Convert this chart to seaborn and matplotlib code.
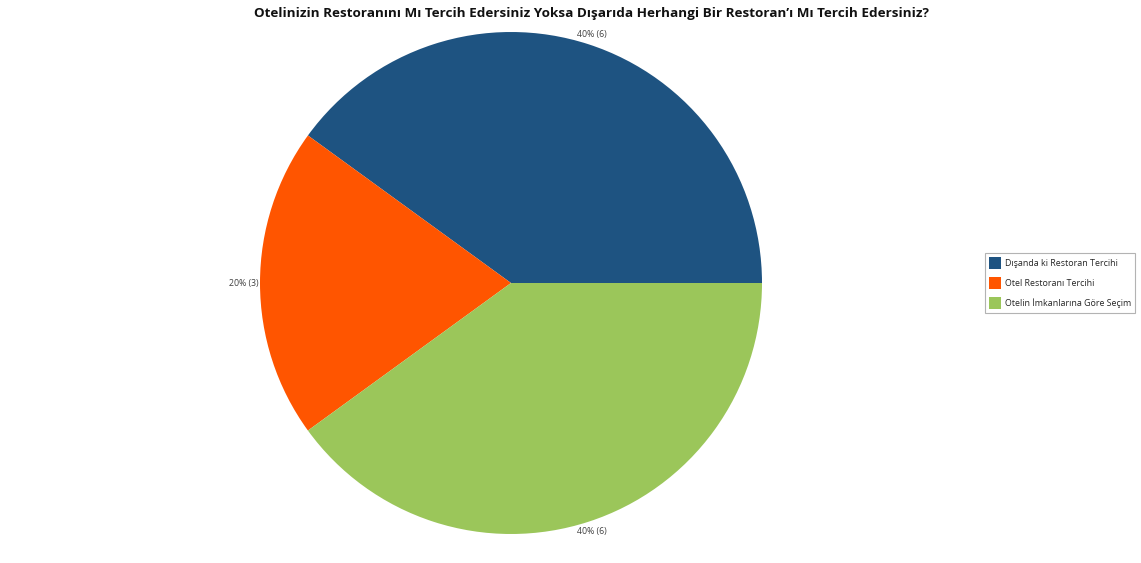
import matplotlib
matplotlib.use("Agg")
import matplotlib.pyplot as plt
import seaborn as sns
import numpy as np

sns.set_theme(style="white")
plt.rcParams['font.family'] = ['Open Sans', 'DejaVu Sans']

title = "Otelinizin Restoranını Mı Tercih Edersiniz Yoksa Dışarıda Herhangi Bir Restoran’ı Mı Tercih Edersiniz?"
categories = ["Dışanda ki Restoran Tercihi", "Otel Restoranı Tercihi", "Otelin İmkanlarına Göre Seçim"]
counts = [6, 3, 6]
colors = ["#1E5381", "#FF5500", "#9BC65A"]

fig = plt.figure(figsize=(11.41, 5.63), dpi=100)
ax = fig.add_axes([260 / 1141, 29 / 563, 502 / 1141, 502 / 563])

wedges, _ = ax.pie(counts, colors=colors, startangle=0, counterclock=True,
                   wedgeprops=dict(linewidth=0))
ax.set_xlim(-1, 1)
ax.set_ylim(-1, 1)
ax.set_aspect("equal")

total = sum(counts)
for w, c in zip(wedges, counts):
    mid = np.deg2rad((w.theta1 + w.theta2) / 2)
    x, y = np.cos(mid), np.sin(mid)
    label = f"{round(100 * c / total)}% ({c})"
    if abs(x) > 0.9:
        # side labels sit just outside the rim
        ax.text(x * 1.005, y, label, ha="right" if x < 0 else "left",
                va="center", fontsize=6.3, color="#404040", clip_on=False)
    else:
        ax.text(1.04 * x, 1.04 * y, label, ha="center", va="center",
                fontsize=6.3, color="#404040", clip_on=False)

fig.text(591.5 / 1141, 1 - 13 / 563, title, ha="center", va="center",
         fontsize=9.7, fontweight="bold", color="#111111")

leg = fig.legend(wedges, categories, loc="center left",
                 bbox_to_anchor=(985 / 1141, 1 - 283 / 563), fontsize=6.4,
                 frameon=True, fancybox=False, edgecolor="#A0A0A0",
                 handlelength=1.35, handleheight=1.7, handletextpad=0.5,
                 borderpad=0.42, labelspacing=0.9, borderaxespad=0)
leg.get_frame().set_linewidth(0.8)

fig.savefig("out.png", dpi=100, facecolor="white")
